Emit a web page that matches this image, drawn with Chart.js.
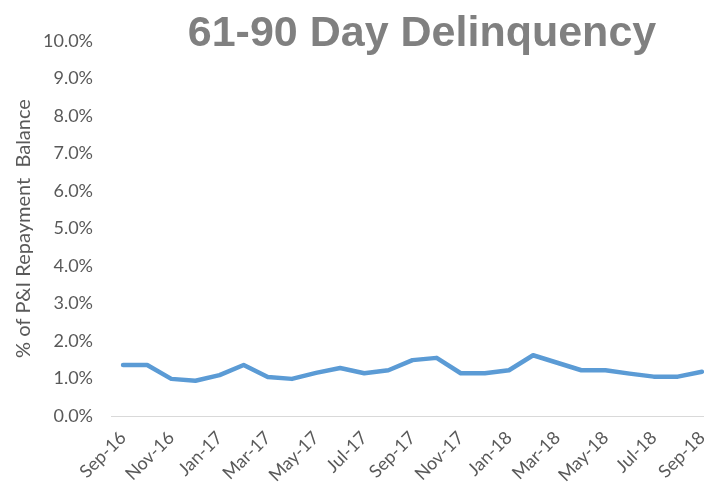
<!DOCTYPE html>
<html>
<head>
<meta charset="utf-8">
<script src="https://cdn.jsdelivr.net/npm/chart.js@4"></script>
<style>
  html, body { margin: 0; padding: 0; background: #fff; overflow: hidden; }
  #wrap { width: 704px; height: 484px; overflow: hidden; position: relative; }
</style>
</head>
<body>
<div id="wrap">
  <canvas id="delinquencyChart" width="716" height="484"></canvas>
</div>
<script>
const months = [
  "Sep-16", "Oct-16", "Nov-16", "Dec-16", "Jan-17", "Feb-17", "Mar-17", "Apr-17",
  "May-17", "Jun-17", "Jul-17", "Aug-17", "Sep-17", "Oct-17", "Nov-17", "Dec-17",
  "Jan-18", "Feb-18", "Mar-18", "Apr-18", "May-18", "Jun-18", "Jul-18", "Aug-18", "Sep-18"
];
const delinquency = [
  1.36, 1.36, 0.99, 0.94, 1.09, 1.36, 1.04, 0.99, 1.15, 1.28, 1.14, 1.22, 1.49,
  1.55, 1.14, 1.14, 1.22, 1.62, 1.42, 1.22, 1.22, 1.13, 1.05, 1.05, 1.18
];
const yTicks = [0, 1, 2, 3, 4, 5, 6, 7, 8, 9, 10];

// big grey title sits over the top of the plot, so draw it by hand
const titlePlugin = {
  id: "bigTitle",
  afterDraw(chart) {
    const c = chart.ctx;
    c.save();
    c.font = "bold 43px 'Liberation Sans', Arial, sans-serif";
    c.fillStyle = "#808080";
    c.textAlign = "center";
    c.textBaseline = "alphabetic";
    c.fillText("61-90 Day Delinquency", 422, 46);
    c.restore();
  }
};

const ctx = document.getElementById("delinquencyChart").getContext("2d");
new Chart(ctx, {
  type: "line",
  data: {
    labels: months,
    datasets: [{
      data: delinquency,
      borderColor: "#5B9BD5",
      borderWidth: 4.5,
      pointRadius: 0,
      tension: 0,
      borderJoinStyle: "round",
      borderCapStyle: "round",
      fill: false
    }]
  },
  options: {
    responsive: false,
    animation: false,
    devicePixelRatio: 1,
    layout: { padding: { top: 41, right: 2, left: 0, bottom: 0 } },
    plugins: {
      legend: { display: false },
      tooltip: { enabled: false }
    },
    scales: {
      x: {
        offset: true,
        grid: { display: false, drawTicks: false },
        border: { display: true, color: "#d9d9d9", width: 1 },
        ticks: {
          autoSkip: false,
          maxRotation: 45,
          minRotation: 45,
          padding: 11,
          color: "#595959",
          font: { family: "Lato, sans-serif", size: 18 },
          callback: function (v, i) { return i % 2 === 0 ? months[i] : ""; }
        },
        afterFit: function (s) {
          s.height = 68;
          s.paddingRight = 0;
          s.paddingLeft = 0;
        }
      },
      y: {
        min: 0,
        max: 10,
        afterBuildTicks: function (s) { s.ticks = yTicks.map(v => ({ value: v })); },
        grid: { display: false, drawTicks: false },
        border: { display: false },
        ticks: {
          padding: 18,
          color: "#595959",
          font: { family: "Lato, sans-serif", size: 18 },
          callback: function (v) { return v.toFixed(1) + "%"; }
        },
        title: {
          display: true,
          text: "% of P&I Repayment  Balance",
          color: "#595959",
          font: { family: "Lato, sans-serif", size: 20 },
          padding: { top: 12, bottom: 0 }
        },
        afterFit: function (s) { s.width = 111; }
      }
    }
  },
  plugins: [titlePlugin]
});
</script>
</body>
</html>
